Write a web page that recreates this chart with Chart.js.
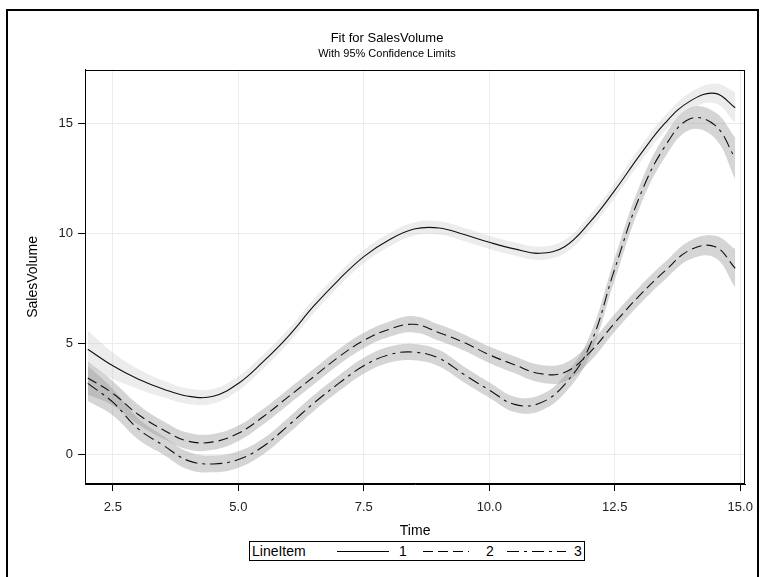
<!DOCTYPE html>
<html>
<head>
<meta charset="utf-8">
<script src="https://cdn.jsdelivr.net/npm/chart.js@4"></script>
<style>
  html, body { margin: 0; padding: 0; background: #fff; }
  #wrap { position: relative; width: 762px; height: 577px; overflow: hidden; font-family: "Liberation Sans", Arial, sans-serif; }
  #frame { position: absolute; left: 6px; top: 9px; width: 749px; height: 600px; border: 2px solid #000; border-bottom: none; }
  canvas { position: absolute; left: 0; top: 0; }
  #legend { position: absolute; left: 249px; top: 541px; width: 336px; height: 20px; border: 1px solid #000; background: #fff;
            font-size: 14px; color: #000; box-sizing: border-box; }
  #legend > * { position: absolute; top: 0; line-height: 18px; }
  #legend svg { top: 5px; }
</style>
</head>
<body>
<div id="wrap">
  <div id="frame"></div>
  <canvas id="chart" width="762" height="577"></canvas>
  <div id="legend"><span style="left:2px">LineItem</span></div>
</div>
<script>
// valores
const times = [2.0, 2.5, 3.0, 3.5, 4.0, 4.5, 5.0, 5.5, 6.0, 6.5, 7.0, 7.5, 8.0, 8.5, 9.0, 9.5, 10.0, 10.5, 11.0, 11.5, 12.0, 12.5, 13.0, 13.5, 14.0, 14.5, 14.9];

const fit1   = [4.75, 4.0, 3.4, 2.95, 2.62, 2.62, 3.2, 4.2, 5.35, 6.7, 7.9, 8.95, 9.7, 10.2, 10.25, 9.95, 9.6, 9.3, 9.1, 9.4, 10.5, 11.95, 13.55, 15.0, 16.0, 16.35, 15.7];
const upper1 = [5.6, 4.6, 3.85, 3.33, 2.97, 2.95, 3.52, 4.52, 5.67, 7.02, 8.2, 9.25, 10.0, 10.5, 10.55, 10.25, 9.9, 9.6, 9.4, 9.7, 10.82, 12.28, 13.9, 15.35, 16.38, 16.8, 16.4];
const lower1 = [3.9, 3.4, 2.95, 2.57, 2.27, 2.29, 2.88, 3.88, 5.03, 6.38, 7.6, 8.65, 9.4, 9.9, 9.95, 9.65, 9.3, 9.0, 8.8, 9.1, 10.18, 11.62, 13.2, 14.65, 15.62, 15.9, 15.0];

const fit2   = [3.45, 2.75, 1.8, 1.1, 0.58, 0.55, 0.94, 1.7, 2.6, 3.5, 4.4, 5.15, 5.65, 5.88, 5.5, 5.05, 4.5, 4.05, 3.65, 3.7, 4.6, 5.95, 7.2, 8.3, 9.25, 9.4, 8.42];
const upper2 = [4.2, 3.3, 2.25, 1.5, 0.96, 0.91, 1.29, 2.05, 2.95, 3.85, 4.75, 5.5, 6.0, 6.25, 5.87, 5.42, 4.87, 4.43, 4.05, 4.12, 5.02, 6.35, 7.6, 8.7, 9.67, 9.9, 9.29];
const lower2 = [2.7, 2.2, 1.35, 0.7, 0.2, 0.19, 0.59, 1.35, 2.25, 3.15, 4.05, 4.8, 5.3, 5.51, 5.13, 4.68, 4.13, 3.67, 3.25, 3.28, 4.18, 5.55, 6.8, 7.9, 8.83, 8.9, 7.55];

const fit3   = [3.2, 2.35, 1.15, 0.4, -0.3, -0.45, -0.25, 0.35, 1.3, 2.3, 3.2, 4.0, 4.5, 4.62, 4.34, 3.6, 2.9, 2.25, 2.3, 3.15, 4.9, 8.4, 11.7, 13.95, 15.2, 14.9, 13.4];
const upper3 = [4.0, 2.95, 1.63, 0.82, 0.1, -0.07, 0.12, 0.71, 1.66, 2.66, 3.56, 4.36, 4.86, 4.99, 4.71, 3.96, 3.25, 2.6, 2.66, 3.55, 5.35, 8.9, 12.2, 14.45, 15.7, 15.5, 14.35];
const lower3 = [2.4, 1.75, 0.67, -0.02, -0.7, -0.83, -0.62, -0.01, 0.94, 1.94, 2.84, 3.64, 4.14, 4.25, 3.97, 3.24, 2.55, 1.9, 1.94, 2.75, 4.45, 7.9, 11.2, 13.45, 14.7, 14.3, 12.45];

const lineItems = ['1', '2', '3'];
const xTicks = [2.5, 5.0, 7.5, 10.0, 12.5, 15.0];
const yTicks = [0, 5, 10, 15];

const fits = [fit1, fit2, fit3];
const uppers = [upper1, upper2, upper3];
const lowers = [lower1, lower2, lower3];
const dashes = [[], [10, 5], [12, 5, 3, 5]];
const bandColors = ['rgba(200,200,200,0.35)', 'rgba(150,150,150,0.40)', 'rgba(150,150,150,0.40)'];

const FONT = "'Liberation Sans', Arial, sans-serif";
const pts = arr => times.map((t, i) => ({ x: t, y: arr[i] }));

let datasets = [];
// faixas de confiança primeiro
lineItems.forEach((name, k) => {
  datasets.push({ label: 'up' + name, data: pts(uppers[k]), borderWidth: 0, pointRadius: 0, fill: false, tension: 0.4 });
  datasets.push({ label: 'lo' + name, data: pts(lowers[k]), borderWidth: 0, pointRadius: 0, fill: '-1', backgroundColor: bandColors[k], tension: 0.4 });
});
// curvas ajustadas
lineItems.forEach((name, k) => {
  datasets.push({ label: name, data: pts(fits[k]), borderColor: '#111', borderWidth: 1.1, borderDash: dashes[k], pointRadius: 0, fill: false, tension: 0.4 });
});

const plotBorder = {
  id: 'plotBorder',
  afterDatasetsDraw(chart) {
    const { ctx, chartArea: a } = chart;
    ctx.save();
    ctx.strokeStyle = '#000';
    ctx.lineWidth = 1;
    ctx.strokeRect(Math.round(a.left) + 0.5, Math.round(a.top) + 0.5, Math.round(a.width) - 1, Math.round(a.height) - 1);
    ctx.restore();
  }
};

new Chart(document.getElementById('chart'), {
  type: 'line',
  data: { datasets },
  plugins: [plotBorder],
  options: {
    responsive: false,
    animation: false,
    layout: { padding: { left: 25, right: 13, top: 0, bottom: 37 } },
    plugins: {
      legend: { display: false },
      tooltip: { enabled: false },
      filler: { propagate: false, drawTime: 'beforeDatasetsDraw' },
      title: { display: true, text: 'Fit for SalesVolume', color: '#000', font: { family: FONT, size: 13, weight: 'normal' }, padding: { top: 31, bottom: 0 } },
      subtitle: { display: true, text: 'With 95% Confidence Limits', color: '#000', font: { family: FONT, size: 11, weight: 'normal' }, padding: { top: 1, bottom: 9 } }
    },
    scales: {
      x: {
        type: 'linear', min: 1.945, max: 15.1,
        afterBuildTicks: s => { s.ticks = xTicks.map(v => ({ value: v })); },
        afterFit: s => { s.height = 56; },
        ticks: { callback: v => v.toFixed(1), color: '#222', font: { family: FONT, size: 13 }, padding: 9, maxRotation: 0, autoSkip: false },
        grid: { color: '#ececec', tickColor: '#000', tickLength: 7 },
        border: { color: '#000' },
        title: { display: true, text: 'Time', color: '#000', font: { family: FONT, size: 14 }, padding: { top: 4, bottom: 0 } }
      },
      y: {
        min: -1.36, max: 17.42,
        afterBuildTicks: s => { s.ticks = yTicks.map(v => ({ value: v })); },
        afterFit: s => { s.width = 60; },
        ticks: { callback: v => String(v), color: '#222', font: { family: FONT, size: 13 }, padding: 5 },
        grid: { color: '#ececec', tickColor: '#000', tickLength: 7 },
        border: { color: '#000' },
        title: { display: true, text: 'SalesVolume', color: '#000', font: { family: FONT, size: 14 }, padding: 0 }
      }
    }
  }
});

// legenda
const legend = document.getElementById('legend');
const sampleLeft = [87, 173, 257];
const sampleWidth = [52, 46, 59];
const labelLeft = [149, 236, 324];
lineItems.forEach((name, k) => {
  const w = sampleWidth[k];
  legend.insertAdjacentHTML('beforeend',
    `<svg style="left:${sampleLeft[k]}px" width="${w}" height="8"><line x1="0" y1="4.5" x2="${w}" y2="4.5" stroke="#000" stroke-width="1.1" stroke-dasharray="${dashes[k].join(' ')}"/></svg>` +
    `<span style="left:${labelLeft[k]}px">${name}</span>`);
});
</script>
</body>
</html>
